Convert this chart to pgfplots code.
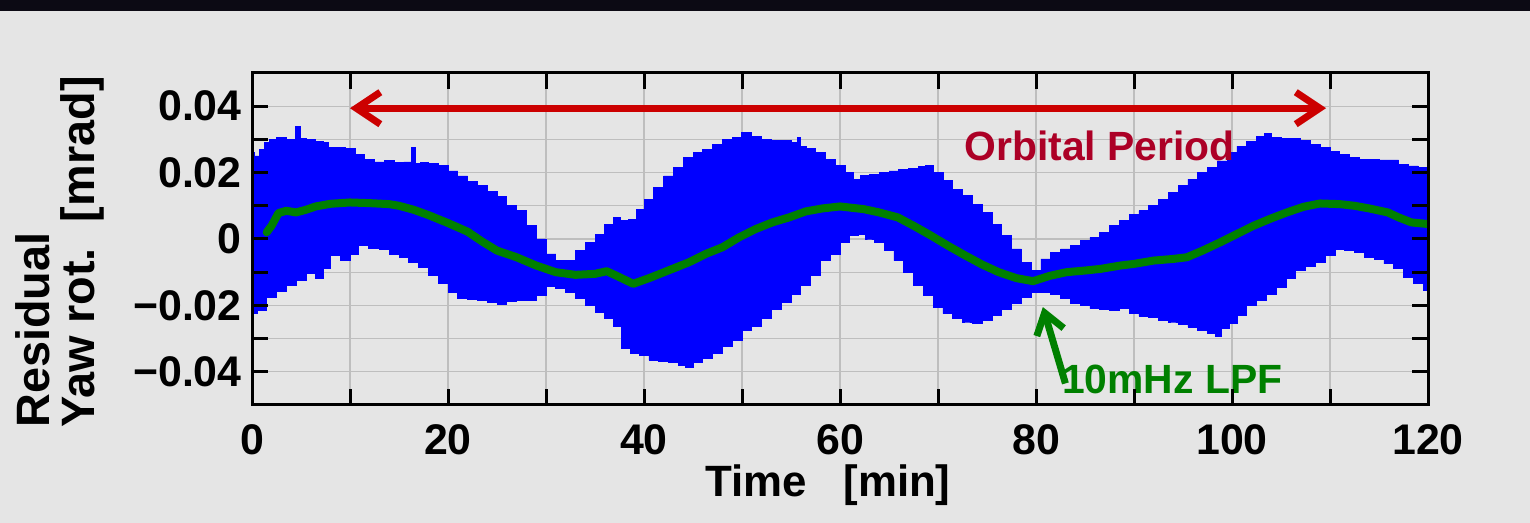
\documentclass[border=0pt]{standalone}
\usepackage{fontspec}
\setmainfont{Liberation Sans}
\usepackage{pgfplots}
\pgfplotsset{compat=1.18}
\usetikzlibrary{arrows.meta}
\definecolor{bg}{RGB}{229,229,229}
\definecolor{gridc}{RGB}{190,190,190}
\definecolor{pblue}{RGB}{0,0,255}
\definecolor{pgreen}{RGB}{0,128,0}
\definecolor{arrred}{RGB}{204,0,0}
\definecolor{txtred}{RGB}{172,0,38}
\definecolor{topband}{RGB}{12,10,20}
\begin{document}
\begin{tikzpicture}
\fill[bg] (0,0) rectangle (765bp,261.5bp);
\fill[topband] (0,256bp) rectangle (765bp,261.5bp);
\pgfplotsset{
  myaxis/.style={
    at={(126bp,59bp)}, anchor=south west,
    scale only axis, width=588bp, height=166bp,
    xmin=0, xmax=120, ymin=-0.05, ymax=0.05,
    xtick={0,10,20,30,40,50,60,70,80,90,100,110,120},
    ytick={-0.04,-0.03,-0.02,-0.01,0,0.01,0.02,0.03,0.04},
    scaled y ticks=false, scaled x ticks=false,
    tick align=inside, major tick length=8bp,
    every tick/.style={black, line width=1.5bp},
    axis line style={black, line width=1.5bp},
    ticklabel style={font=\fontsize{21.5}{22}\selectfont\bfseries},
    yticklabel style={inner sep=0pt, xshift=-5bp},
    xticklabel style={inner sep=0pt, yshift=-9.5bp},
  }
}
\begin{axis}[myaxis,
    xticklabels={0,,20,,40,,60,,80,,100,,120},
    yticklabels={−0.04,,−0.02,,0,,0.02,,0.04},
    grid=major, major grid style={draw=gridc, line width=0.6bp},
    clip=true]
% residual envelope: upper edge (0 -> 120), then lower edge (120 -> 0)
\addplot[const plot mark mid, fill=pblue, draw=pblue, line width=0.4bp] table {
0 0.0260
0.5 0.0250
1 0.0270
1.5 0.0290
2 0.0300
3 0.0305
4 0.0300
4.8 0.0340
5.1 0.0302
6 0.0300
7 0.0295
7.5 0.0290
8 0.0275
9 0.0276
10 0.0272
11 0.0255
12 0.0240
13 0.0232
14 0.0236
15 0.0230
16 0.0232
16.5 0.0275
16.8 0.0228
17.5 0.0230
18.5 0.0228
19.5 0.0222
20.5 0.0205
21.5 0.0190
22.5 0.0172
23.5 0.0160
24.5 0.0142
25.5 0.0128
26.5 0.0100
27.5 0.0085
28.5 0.0040
29.5 0.0000
30.5 -0.0045
31.5 -0.0065
32.5 -0.0065
33.5 -0.0035
34.5 -0.0010
35.5 0.0015
36.5 0.0045
37.2 0.0065
38 0.0055
38.8 0.0060
39.6 0.0090
40.5 0.0120
41.5 0.0155
42.5 0.0190
43.5 0.0215
44.5 0.0245
45.5 0.0260
46.5 0.0270
47.5 0.0285
48.5 0.0300
49.5 0.0305
50.4 0.0320
51.5 0.0308
52.5 0.0300
53.5 0.0296
54.5 0.0298
55.5 0.0290
55.8 0.0305
56.2 0.0280
57 0.0272
58 0.0260
59 0.0240
60 0.0222
61 0.0200
61.7 0.0180
62.5 0.0192
63.5 0.0195
64.5 0.0200
65.5 0.0205
66.5 0.0210
67.5 0.0212
68.5 0.0218
69 0.0222
70 0.0200
71 0.0175
72 0.0150
73 0.0130
74 0.0105
75 0.0080
76 0.0045
77 0.0010
78 -0.0030
79 -0.0070
80 -0.0095
81 -0.0060
82 -0.0040
83 -0.0030
84 -0.0020
85 -0.0005
86 0.0005
87 0.0020
88 0.0040
89 0.0055
90 0.0075
91 0.0085
92 0.0100
93 0.0120
94 0.0140
95 0.0160
96 0.0180
97 0.0200
98 0.0215
99 0.0235
100 0.0260
101 0.0280
102 0.0295
103 0.0308
103.6 0.0318
104.5 0.0305
105.5 0.0303
106.5 0.0302
107.5 0.0296
108.5 0.0285
109.5 0.0275
110.5 0.0265
111.5 0.0255
112.5 0.0245
113.5 0.0240
114.5 0.0240
115.5 0.0238
116.5 0.0238
117.5 0.0225
118.5 0.0220
119.5 0.0215
120 0.0215
120 -0.0155
119 -0.0135
118 -0.0115
117 -0.0090
116 -0.0075
115 -0.0062
114 -0.0055
113 -0.0040
112 -0.0035
111 -0.0030
110 -0.0050
109 -0.0070
108 -0.0082
107 -0.0095
106 -0.0120
105 -0.0145
104 -0.0168
103 -0.0185
102 -0.0200
101 -0.0230
100.2 -0.0255
99.3 -0.0270
98.6 -0.0292
98 -0.0285
97 -0.0275
96 -0.0265
95 -0.0258
94 -0.0250
93 -0.0245
92 -0.0236
91 -0.0232
90 -0.0225
89 -0.0210
88 -0.0215
87 -0.0212
86 -0.0210
85 -0.0200
84 -0.0195
83 -0.0180
82 -0.0168
81 -0.0160
80 -0.0162
79 -0.0175
78 -0.0195
77 -0.0212
76 -0.0230
75 -0.0245
74 -0.0255
73 -0.0250
72 -0.0240
71 -0.0225
70 -0.0205
69 -0.0170
68 -0.0140
67 -0.0100
66 -0.0065
65 -0.0035
64 -0.0010
63 0.0000
62.2 0.0015
61.5 0.0010
60.5 -0.0010
59.5 -0.0045
58.5 -0.0065
57.5 -0.0110
56.5 -0.0140
55.5 -0.0168
54.5 -0.0190
53.5 -0.0212
52.5 -0.0240
51.5 -0.0262
50.5 -0.0275
49.5 -0.0305
48.5 -0.0325
47.5 -0.0345
46.5 -0.0360
45.5 -0.0372
44.5 -0.0386
44 -0.0380
43 -0.0372
42 -0.0370
41 -0.0365
40 -0.0352
39 -0.0345
38.2 -0.0330
37.2 -0.0262
36.5 -0.0240
35.5 -0.0220
34.5 -0.0200
33.5 -0.0180
32.5 -0.0160
31.5 -0.0148
30.5 -0.0142
29.5 -0.0170
28.5 -0.0186
27.5 -0.0185
26.5 -0.0188
25.5 -0.0196
24.5 -0.0192
23.5 -0.0186
22.5 -0.0182
21.5 -0.0178
20.5 -0.0160
19.5 -0.0135
18.5 -0.0110
17.5 -0.0085
16.5 -0.0070
15.5 -0.0055
14.5 -0.0045
13.5 -0.0032
12.5 -0.0028
11.3 -0.0020
10.5 -0.0045
9.5 -0.0065
8.5 -0.0050
7.5 -0.0090
7 -0.0120
6 -0.0105
5 -0.0125
4 -0.0140
3 -0.0158
2 -0.0175
1 -0.0215
0 -0.0225
} -- cycle;
% 10 mHz low-pass filtered signal
\addplot[pgreen, line width=4bp, line join=round, line cap=round] table {
1.5 0.0020
2 0.0040
2.7 0.0078
3.5 0.0085
4.5 0.0080
5.5 0.0088
6.5 0.0098
8 0.0106
10 0.0110
12 0.0108
14 0.0105
15 0.0100
16.5 0.0088
18 0.0072
20 0.0048
22 0.0022
23.5 -0.0008
25 -0.0035
27 -0.0055
29 -0.0080
30 -0.0090
31 -0.0100
33 -0.0108
35 -0.0105
36.2 -0.0097
37.5 -0.0115
38.9 -0.0135
40.6 -0.0117
42.9 -0.0090
44.6 -0.0070
46.3 -0.0045
48 -0.0025
49.7 0.0005
51.4 0.0030
53.1 0.0050
54.8 0.0065
56.5 0.0083
58.2 0.0092
60 0.0098
62.4 0.0090
64 0.0080
65.9 0.0065
67.5 0.0040
69.3 0.0010
71 -0.0020
72.8 -0.0050
74.5 -0.0077
76.2 -0.0100
78 -0.0118
79.7 -0.0127
81.4 -0.0111
83.1 -0.0100
85 -0.0095
86.6 -0.0090
88.6 -0.0080
90 -0.0075
92 -0.0065
94 -0.0060
95.4 -0.0055
97 -0.0035
98.8 -0.0010
100.5 0.0015
102.2 0.0040
104 0.0062
105.6 0.0080
107.3 0.0097
109 0.0107
111 0.0105
112.5 0.0100
114 0.0092
115.9 0.0080
117 0.0065
118.3 0.0050
120 0.0045
};
\draw[arrred, line width=3.5bp, {Straight Barb[length=12bp,width=16bp]}-{Straight Barb[length=12bp,width=16bp]}]
  (axis cs:10,0.0394) -- (axis cs:109.6,0.0394);
\node[txtred, font=\fontsize{20.5}{21}\selectfont\bfseries, inner sep=0] at (axis cs:86.5,0.0279) {Orbital Period};
\draw[pgreen, line width=3.5bp, -{Straight Barb[length=10bp,width=14bp]}]
  (axis cs:83,-0.0435) -- (axis cs:80.7,-0.0205);
\node[pgreen, font=\fontsize{20.5}{21}\selectfont\bfseries, inner sep=0] at (axis cs:93.9,-0.0424) {10mHz LPF};
\end{axis}
\begin{axis}[myaxis, xticklabels={}, yticklabels={}]
\addplot[draw=none] coordinates {(0,0) (120,0)};
\end{axis}
\node[rotate=90, anchor=north west, align=left, inner sep=0,
      font=\fontsize{23.5}{22.5}\selectfont\bfseries] at (7.5bp,47.5bp)
      {Residual\\Yaw rot.\ \ [mrad]};
\node[anchor=north, inner sep=0, font=\fontsize{22}{22}\selectfont\bfseries] at (414bp,29.5bp)
      {Time\ \ \ [min]};
\end{tikzpicture}
\end{document}
